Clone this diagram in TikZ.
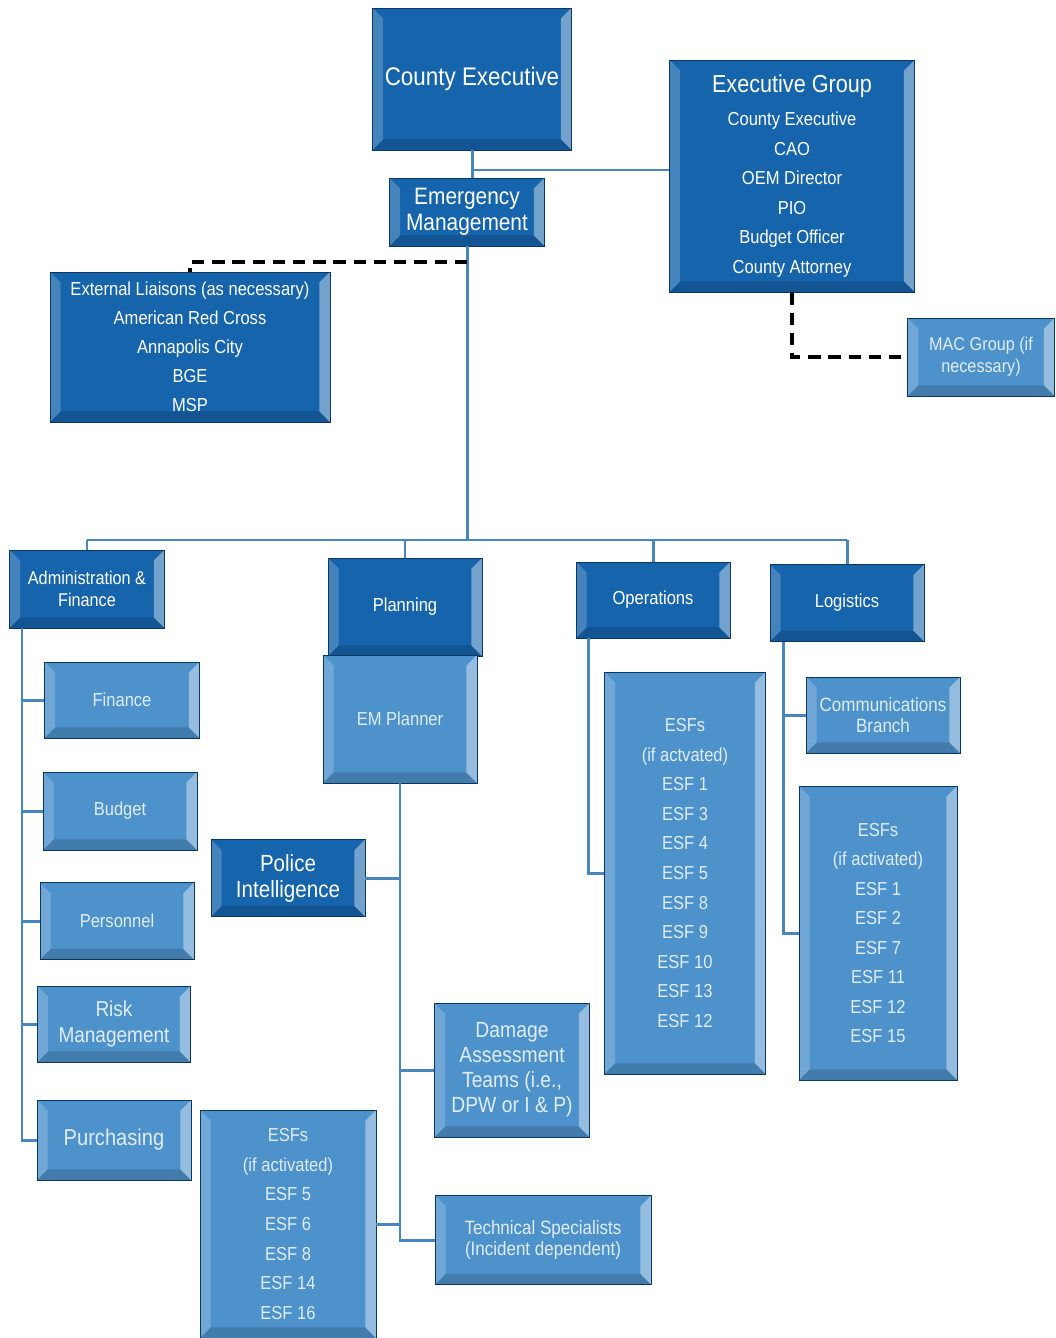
\documentclass[tikz,border=0pt]{standalone}
\usepackage{fontspec}
\setmainfont[FakeStretch=0.88]{Liberation Sans}
\definecolor{darkbox}{RGB}{22,100,172}
\definecolor{lightbox}{RGB}{78,146,204}
\definecolor{linkblue}{RGB}{74,134,190}
\definecolor{paletext}{RGB}{224,237,248}
\begin{document}
\begin{tikzpicture}[x=0.02cm,y=-0.02cm,
    box/.style={rectangle,inner sep=1pt,align=center,draw=darkbox!55!black,line width=0.5pt,
      path picture={
        \path (path picture bounding box.north west) coordinate (bw)
              (path picture bounding box.south east) coordinate (be);
        \fill[white,opacity=.4] (be |- bw) -- (be) -- ([shift={(-6pt,6pt)}]be) -- ([shift={(-6pt,-6pt)}]be |- bw) -- cycle;
        \fill[white,opacity=.2] (bw) -- (bw |- be) -- ([shift={(6pt,6pt)}]bw |- be) -- ([shift={(6pt,-6pt)}]bw) -- cycle;
        \fill[black,opacity=.15] (bw |- be) -- (be) -- ([shift={(-6pt,6pt)}]be) -- ([shift={(6pt,6pt)}]bw |- be) -- cycle;
      }},
    dark/.style={box,fill=darkbox,text=white},
    light/.style={box,fill=lightbox,text=paletext},
    txt/.style={font=\fontsize{10.7}{16.8}\selectfont},
    conn/.style={draw=linkblue,line width=1.7pt},
    liaison/.style={draw=black,line width=2.2pt,dash pattern=on 7pt off 4.5pt}]
    \useasboundingbox (0,0) rectangle (1055,1338);
    \node[dark,minimum width=3.98cm,minimum height=2.84cm,font=\fontsize{14.5}{17}\selectfont] (ce) at (472,79) {County Executive};
    \node[dark,txt,minimum width=4.9cm,minimum height=4.64cm] (eg) at (792,176) {{\fontsize{14}{17}\selectfont Executive Group}\\[2pt] County Executive\\ CAO\\ OEM Director\\ PIO\\ Budget Officer\\ County Attorney};
    \node[dark,minimum width=3.1cm,minimum height=1.36cm,font=\fontsize{13.5}{15}\selectfont] (em) at (467,212) {Emergency\\Management};
    \node[dark,font=\fontsize{10.7}{16.5}\selectfont,minimum width=5.6cm,minimum height=3cm] (ext) at (190,347) {External Liaisons (as necessary)\\ American Red Cross\\ Annapolis City\\ BGE\\ MSP};
    \node[light,font=\fontsize{10.5}{12.5}\selectfont,minimum width=2.94cm,minimum height=1.56cm] (mac) at (981,357) {MAC Group (if\\necessary)};
    \node[dark,font=\fontsize{10.5}{12.5}\selectfont,minimum width=3.1cm,minimum height=1.56cm] (adm) at (87,589) {Administration \&\\Finance};
    \node[dark,txt,minimum width=3.08cm,minimum height=1.96cm] (pla) at (405,607) {Planning};
    \node[light,txt,minimum width=3.08cm,minimum height=2.56cm] (emp) at (400,719) {EM Planner};
    \node[dark,txt,minimum width=3.08cm,minimum height=1.52cm] (ops) at (653,600) {Operations};
    \node[dark,txt,minimum width=3.08cm,minimum height=1.54cm] (log) at (847,603) {Logistics};
    \node[light,txt,minimum width=3.1cm,minimum height=1.52cm] (fin) at (122,700) {Finance};
    \node[light,txt,minimum width=3.08cm,minimum height=1.56cm] (bud) at (120,811) {Budget};
    \node[light,txt,minimum width=3.08cm,minimum height=1.54cm] (per) at (117,921) {Personnel};
    \node[light,font=\fontsize{12.3}{15}\selectfont,minimum width=3.06cm,minimum height=1.52cm] (risk) at (114,1024) {Risk\\Management};
    \node[light,font=\fontsize{13}{15}\selectfont,minimum width=3.08cm,minimum height=1.6cm] (pur) at (114,1140) {Purchasing};
    \node[dark,font=\fontsize{13.3}{14.8}\selectfont,minimum width=3.08cm,minimum height=1.54cm] (pol) at (288,878) {Police\\Intelligence};
    \node[light,txt,minimum width=3.52cm,minimum height=4.56cm] (esf3) at (288,1224) {ESFs\\ (if activated)\\ ESF 5\\ ESF 6\\ ESF 8\\ ESF 14\\ ESF 16};
    \node[light,font=\fontsize{12.5}{14.2}\selectfont,minimum width=3.1cm,minimum height=2.68cm] (dam) at (512,1070) {Damage\\Assessment\\Teams (i.e.,\\DPW or I \& P)};
    \node[light,font=\fontsize{11}{12.5}\selectfont,minimum width=4.32cm,minimum height=1.78cm] (tech) at (543,1240) {Technical Specialists\\(Incident dependent)};
    \node[light,txt,minimum width=3.22cm,minimum height=8.04cm] (esf1) at (685,873) {ESFs\\ (if actvated)\\ ESF 1\\ ESF 3\\ ESF 4\\ ESF 5\\ ESF 8\\ ESF 9\\ ESF 10\\ ESF 13\\ ESF 12};
    \node[light,font=\fontsize{11}{12}\selectfont,minimum width=3.08cm,minimum height=1.52cm] (com) at (883,715) {Communications\\Branch};
    \node[light,txt,minimum width=3.16cm,minimum height=5.88cm] (esf2) at (878,933) {ESFs\\ (if activated)\\ ESF 1\\ ESF 2\\ ESF 7\\ ESF 11\\ ESF 12\\ ESF 15};
    \coordinate (j1) at (472,170);
    \coordinate (bus) at (463,540);
    \coordinate (as) at (22,628);
    \coordinate (os) at (588,638);
    \coordinate (ls) at (783,642);
    \draw[conn] (ce.south) -- (ce.south |- em.north);
    \draw[conn] (j1) -- (j1 -| eg.west);
    \draw[conn] (em.south) -- (em.south |- bus);
    \draw[conn] (adm.north |- bus) -- (log.north |- bus);
    \foreach \n in {adm,pla,ops,log} \draw[conn] (\n.north |- bus) -- (\n.north);
    \draw[liaison] (em.south |- 0,262) -| (ext.north);
    \draw[liaison] (eg.south) |- (mac.west);
    \foreach \n in {fin,bud,per,risk,pur} \draw[conn] (as) |- (\n.west);
    \foreach \n in {dam,tech} \draw[conn] (emp.south) |- (\n.west);
    \draw[conn] (emp.south) |- (pol.east);
    \draw[conn] (esf3.east) -- (esf3.east -| emp.south);
    \draw[conn] (os) |- (esf1.west);
    \draw[conn] (ls) |- (com.west);
    \draw[conn] (ls) |- (esf2.west);
\end{tikzpicture}
\end{document}
